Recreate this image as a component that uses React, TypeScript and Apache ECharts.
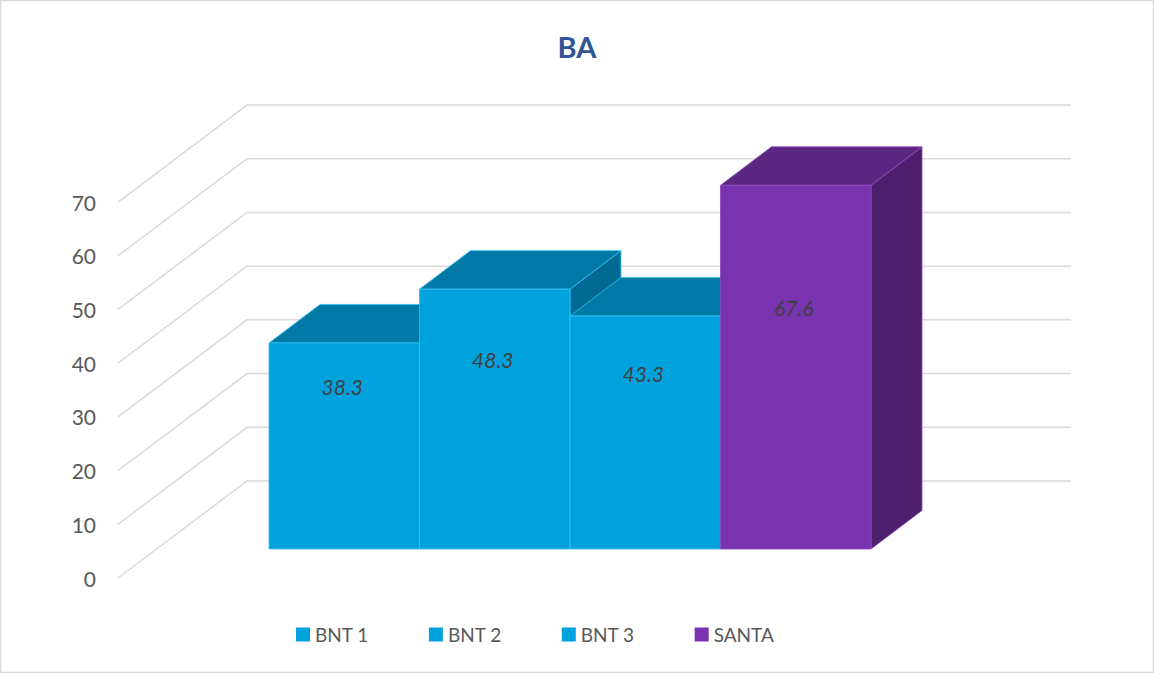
import React, { useEffect, useRef } from "react";
import * as echarts from "echarts";

const categories = ["BNT 1", "BNT 2", "BNT 3", "SANTA"];
const values = [38.3, 48.3, 43.3, 67.6];
const yTicks = [0, 10, 20, 30, 40, 50, 60, 70];

const faces = [
  { front: "#00A2DD", top: "#0079A6", side: "#006A92", edge: "#35C1F5" },
  { front: "#00A2DD", top: "#0079A6", side: "#006A92", edge: "#35C1F5" },
  { front: "#00A2DD", top: "#0079A6", side: "#006A92", edge: "#35C1F5" },
  { front: "#7A33AE", top: "#5C2783", side: "#4D206E", edge: "#8A4ABD" },
];

const DX = 51;
const DY = -38.5;
const WALL_DX = 129;
const WALL_DY = -97;
const FONT = "Lato, 'Open Sans', sans-serif";

export default function App() {
  const ref = useRef<HTMLDivElement>(null);

  useEffect(() => {
    if (!ref.current) return;
    const chart = echarts.init(ref.current, undefined, { renderer: "svg" });

    const barSeries = categories.map((name, i) => ({
      type: "custom",
      name,
      xAxisIndex: 0,
      yAxisIndex: 0,
      itemStyle: { color: faces[i].front },
      data: [[i, values[i]]],
      renderItem: (params: any, api: any) => {
        const idx = api.value(0);
        const v = api.value(1);
        const base = api.coord([idx, 0]);
        const top = api.coord([idx, v]);
        const bw = api.size([1, 0])[0];
        const l = base[0] - bw / 2;
        const r = base[0] + bw / 2;
        const yT = top[1];
        const yB = base[1];
        const c = faces[i];
        const lp = api.coord([idx, v / 2 + 11]);
        return {
          type: "group",
          children: [
            {
              type: "polygon",
              shape: { points: [[r, yT], [r + DX, yT + DY], [r + DX, yB + DY], [r, yB]] },
              style: { fill: c.side, stroke: c.edge, lineWidth: 0.8 },
            },
            {
              type: "polygon",
              shape: { points: [[l, yT], [l + DX, yT + DY], [r + DX, yT + DY], [r, yT]] },
              style: { fill: c.top, stroke: c.edge, lineWidth: 0.8 },
            },
            {
              type: "rect",
              shape: { x: l, y: yT, width: bw, height: yB - yT },
              style: { fill: c.front, stroke: c.edge, lineWidth: 0.8 },
            },
            {
              type: "text",
              x: base[0] - 2,
              y: lp[1],
              style: {
                text: String(v),
                fill: "#404040",
                fontSize: 21,
                fontStyle: "italic",
                fontFamily: FONT,
                align: "center",
                verticalAlign: "middle",
              },
            },
          ],
        };
      },
    }));

    const wallSeries = {
      type: "custom",
      name: "walls",
      silent: true,
      xAxisIndex: 1,
      yAxisIndex: 1,
      data: yTicks.map((t) => [0, t]),
      renderItem: (params: any, api: any) => {
        const t = api.value(1);
        const p = api.coord([0, t]);
        const e = api.coord([1, t]);
        return {
          type: "polyline",
          shape: {
            points: [
              [p[0], p[1]],
              [p[0] + WALL_DX, p[1] + WALL_DY],
              [e[0], p[1] + WALL_DY],
            ],
          },
          style: { stroke: "#D9D9D9", lineWidth: 1.5, fill: "none" },
        };
      },
    };

    chart.setOption({
      animation: false,
      backgroundColor: "#ffffff",
      title: {
        text: "BA",
        left: "center",
        top: 27,
        textStyle: { color: "#2F5597", fontSize: 29, fontWeight: "bold", fontFamily: FONT },
      },
      legend: {
        left: 291,
        top: 620,
        itemWidth: 14,
        itemHeight: 14,
        itemGap: 60,
        icon: "rect",
        data: categories,
        textStyle: { color: "#595959", fontSize: 19, fontFamily: FONT },
      },
      grid: [
        { left: 269, top: 549 - 80 * 5.38, width: 602, height: 80 * 5.38 },
        { left: 118, top: 578 - 70 * 5.371, width: 953, height: 70 * 5.371 },
      ],
      xAxis: [
        { type: "category", gridIndex: 0, data: categories, show: false, boundaryGap: true },
        { type: "value", gridIndex: 1, min: 0, max: 1, show: false },
      ],
      yAxis: [
        { type: "value", gridIndex: 0, min: 0, max: 80, show: false },
        {
          type: "value",
          gridIndex: 1,
          min: 0,
          max: 70,
          interval: 10,
          axisLine: { show: false },
          axisTick: { show: false },
          splitLine: { show: false },
          axisLabel: { color: "#595959", fontSize: 21, fontFamily: FONT, margin: 22 },
        },
      ],
      graphic: [
        {
          type: "rect",
          shape: { x: 0.5, y: 0.5, width: 1153, height: 672 },
          style: { fill: "none", stroke: "#D9D9D9", lineWidth: 1.5 },
          silent: true,
          z: 100,
        },
      ],
      series: [wallSeries, ...barSeries],
    });

    return () => chart.dispose();
  }, []);

  return (
    <div
      ref={ref}
      style={{ position: "fixed", left: 0, top: 0, width: 1154, height: 673, background: "#fff" }}
    />
  );
}
